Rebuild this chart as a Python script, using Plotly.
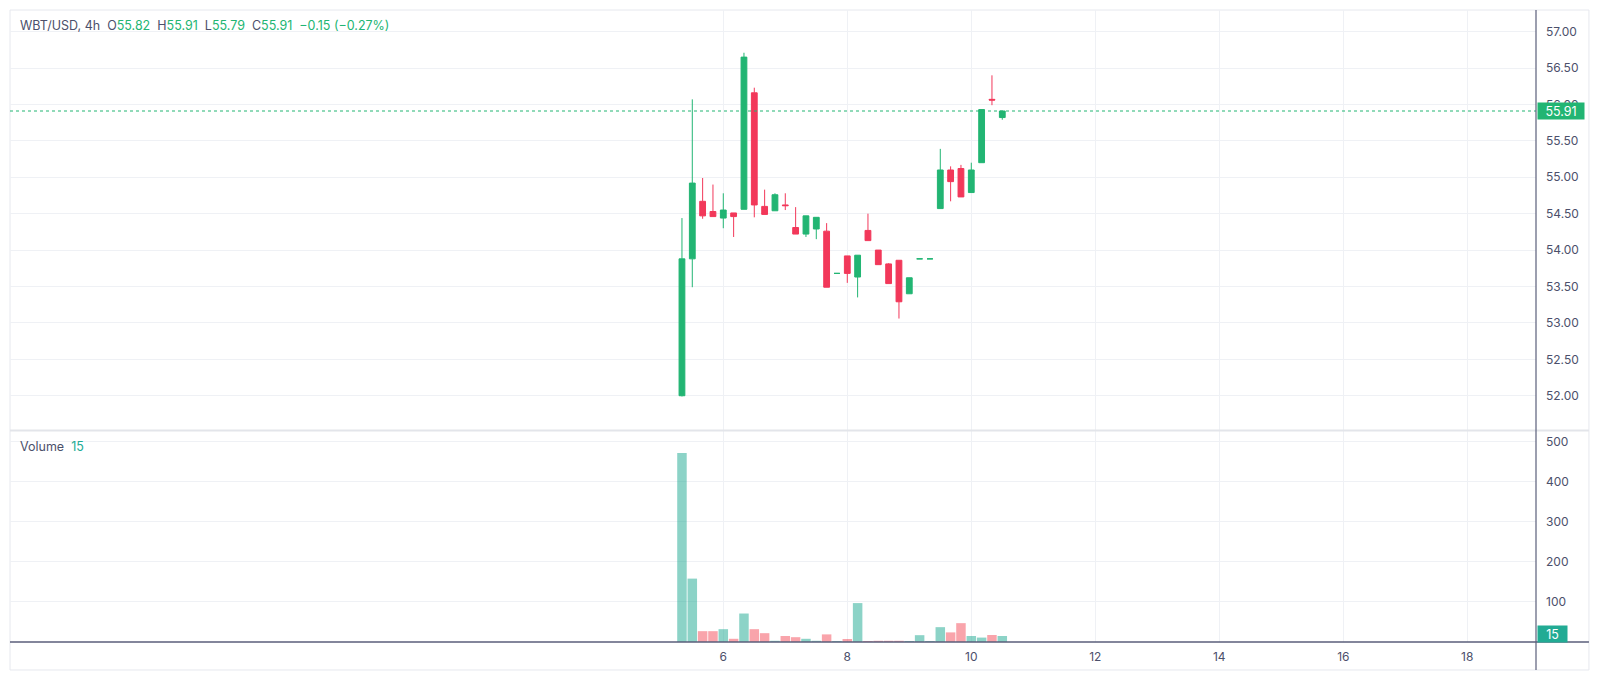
import plotly.graph_objects as go
import pandas as pd

# ---------------- data ----------------
symbol = "WBT/USD"
interval = "4h"
start_time = "2024-03-05 08:00"

opens = [52.00, 53.88, 54.67, 54.53, 54.44, 54.51, 54.56, 56.16, 54.60, 54.54,
         54.62, 54.31, 54.22, 54.29, 54.26, 53.68, 53.92, 53.63, 54.27, 54.00,
         53.81, 53.86, 53.40, 53.88, 53.88, 54.57, 55.10, 55.12, 54.79, 55.20,
         56.07, 55.82]
highs = [54.44, 56.07, 54.99, 54.90, 54.78, 54.51, 56.71, 56.23, 54.83, 54.78,
         54.78, 54.59, 54.47, 54.45, 54.37, 53.68, 53.92, 53.93, 54.50, 54.00,
         53.82, 53.86, 53.62, 53.88, 53.88, 55.39, 55.15, 55.17, 55.20, 55.93,
         56.40, 55.91]
lows = [51.99, 53.49, 54.43, 54.46, 54.30, 54.18, 54.56, 54.45, 54.49, 54.54,
        54.55, 54.22, 54.18, 54.15, 53.49, 53.68, 53.55, 53.35, 54.13, 53.80,
        53.54, 53.06, 53.40, 53.88, 53.88, 54.57, 54.67, 54.73, 54.79, 55.20,
        55.99, 55.79]
closes = [53.88, 54.92, 54.47, 54.46, 54.55, 54.46, 56.65, 54.62, 54.49, 54.76,
          54.61, 54.22, 54.47, 54.45, 53.49, 53.68, 53.68, 53.93, 54.13, 53.80,
          53.54, 53.29, 53.62, 53.88, 53.88, 55.10, 54.94, 54.73, 55.10, 55.93,
          56.06, 55.91]
volumes = [471, 158, 27, 27, 32, 8, 71, 32, 22, 3,
           15, 12, 8, 3, 19, 2.5, 7.5, 97, 2.5, 3,
           3, 3, 2.5, 17, 2.5, 37, 24, 47, 15, 11,
           17.5, 15]

x_tick_days = ["2024-03-06", "2024-03-08", "2024-03-10", "2024-03-12",
               "2024-03-14", "2024-03-16", "2024-03-18"]
x_tick_text = ["6", "8", "10", "12", "14", "16", "18"]
price_ticks = [52.0, 52.5, 53.0, 53.5, 54.0, 54.5, 55.0, 55.5, 56.0, 56.5, 57.0]
volume_ticks = [100, 200, 300, 400, 500]

# ---------------- styles ----------------
UP = "#22b573"
DOWN = "#f2385a"
UP_VOL = "rgba(34,171,148,0.52)"
DOWN_VOL = "rgba(242,54,69,0.45)"
TEAL = "#22ab94"
TEXT = "#4c506b"
GRID = "#eff1f5"
AXIS = "#5a5e7a"
FRAME = "#e6e8ee"
FONT = "Inter"

times = pd.date_range(start_time, periods=len(opens), freq=interval)

# direction of each bar (flat bars follow the previous close, as the candlestick does)
up_flags = []
prev_close = None
state = True
for o, c in zip(opens, closes):
    if c != o:
        state = c > o
    elif prev_close is not None and c != prev_close:
        state = c > prev_close
    up_flags.append(state)
    prev_close = c
vol_colors = [UP_VOL if u else DOWN_VOL for u in up_flags]

fig = go.Figure()
fig.add_trace(go.Candlestick(
    x=times, open=opens, high=highs, low=lows, close=closes,
    increasing=dict(line=dict(color=UP, width=1), fillcolor=UP),
    decreasing=dict(line=dict(color=DOWN, width=1), fillcolor=DOWN),
    xaxis="x", yaxis="y", showlegend=False, hoverinfo="x+y",
))
fig.add_trace(go.Bar(
    x=times, y=volumes, marker=dict(color=vol_colors, line=dict(width=0)),
    xaxis="x2", yaxis="y2", showlegend=False,
))

x_range = ["2024-02-23 11:53", "2024-03-19 02:36"]
last_close = closes[-1]
change = closes[-1] - closes[-2]
pct = change / closes[-2] * 100

def fmt_signed(v, suffix=""):
    s = f"{abs(v):.2f}{suffix}"
    return ("\u2212" if v < 0 else "+") + s

header = (
    f"<span style='color:{TEXT}'>{symbol}, {interval}</span>&nbsp;&nbsp;"
    f"<span style='color:{TEXT}'>O</span><span style='color:{UP}'>{opens[-1]:.2f}</span>&nbsp;&nbsp;"
    f"<span style='color:{TEXT}'>H</span><span style='color:{UP}'>{highs[-1]:.2f}</span>&nbsp;&nbsp;"
    f"<span style='color:{TEXT}'>L</span><span style='color:{UP}'>{lows[-1]:.2f}</span>&nbsp;&nbsp;"
    f"<span style='color:{TEXT}'>C</span><span style='color:{UP}'>{closes[-1]:.2f}</span>&nbsp;&nbsp;"
    f"<span style='color:{UP}'>{fmt_signed(change)} ({fmt_signed(pct, '%')})</span>"
)
vol_header = (
    f"<span style='color:{TEXT}'>Volume</span>&nbsp;&nbsp;"
    f"<span style='color:{TEAL}'>{volumes[-1]:g}</span>"
)

BOTTOM_EXT = -0.0443
RIGHT_EXT = 1.0347

fig.update_layout(
    width=1600, height=681,
    margin=dict(l=10, r=64, t=10, b=39),
    paper_bgcolor="white", plot_bgcolor="white",
    font=dict(family=FONT, size=12, color=TEXT),
    boxgap=0.2, bargap=0.08,
    showlegend=False,
    xaxis=dict(
        domain=[0, 1], anchor="y", type="date", range=x_range,
        tickvals=x_tick_days, ticktext=x_tick_text, showticklabels=False,
        showgrid=True, gridcolor=GRID, gridwidth=1, zeroline=False,
        rangeslider=dict(visible=False), matches="x2", fixedrange=True,
    ),
    xaxis2=dict(
        domain=[0, 1], anchor="y2", type="date", range=x_range,
        tickvals=x_tick_days, ticktext=x_tick_text, showticklabels=True,
        showgrid=True, gridcolor=GRID, gridwidth=1, zeroline=False,
        ticks="", ticklabelstandoff=6,
        tickfont=dict(family=FONT, size=12, color=TEXT),
    ),
    yaxis=dict(
        domain=[0.3354, 1], anchor="x", side="right", range=[51.529, 57.297],
        tickvals=price_ticks, tickformat=".2f",
        showgrid=True, gridcolor=GRID, gridwidth=1, zeroline=False,
        ticks="", ticklabelstandoff=9,
        tickfont=dict(family=FONT, size=12, color=TEXT),
    ),
    yaxis2=dict(
        domain=[0, 0.3339], anchor="x2", side="right", range=[0, 526],
        tickvals=volume_ticks,
        showgrid=True, gridcolor=GRID, gridwidth=1, zeroline=False,
        ticks="", ticklabelstandoff=9,
        tickfont=dict(family=FONT, size=12, color=TEXT),
    ),
)

shapes = [
    # outer frame
    dict(type="rect", xref="paper", yref="paper", x0=0, x1=RIGHT_EXT, y0=BOTTOM_EXT, y1=1,
         line=dict(color=FRAME, width=1), fillcolor="rgba(0,0,0,0)", layer="below"),
    # pane separator
    dict(type="line", xref="paper", yref="paper", x0=0, x1=RIGHT_EXT, y0=0.3347, y1=0.3347,
         line=dict(color="#e3e5ea", width=2)),
    # last price dotted line
    dict(type="line", xref="paper", yref="y", x0=0, x1=1, y0=last_close, y1=last_close,
         line=dict(color=UP, width=1, dash="dot")),
    # right price-scale border
    dict(type="line", xref="paper", yref="paper", x0=1, x1=1, y0=BOTTOM_EXT, y1=1,
         line=dict(color=AXIS, width=1.2)),
    # time-scale border
    dict(type="line", xref="paper", yref="paper", x0=0, x1=RIGHT_EXT, y0=0, y1=0,
         line=dict(color=AXIS, width=1.5)),
]
fig.update_layout(shapes=shapes)

fig.add_annotation(xref="paper", yref="paper", x=0, y=0.9747, xanchor="left", yanchor="middle",
                   xshift=8, text=header, showarrow=False,
                   font=dict(family=FONT, size=12.5, color=TEXT))
fig.add_annotation(xref="paper", yref="paper", x=0, y=0.3087, xanchor="left", yanchor="middle",
                   xshift=8, text=vol_header, showarrow=False,
                   font=dict(family=FONT, size=12.5, color=TEXT))
fig.add_annotation(xref="paper", yref="y", x=1, y=last_close, xanchor="left", yanchor="middle",
                   text=f"{last_close:.2f}", showarrow=False, bgcolor=UP, borderpad=0,
                   width=46, height=16, align="center",
                   font=dict(family=FONT, size=12.5, color="white"), xshift=1)
fig.add_annotation(xref="paper", yref="y2", x=1, y=volumes[-1], xanchor="left", yanchor="middle",
                   text=f"{volumes[-1]:g}", showarrow=False, bgcolor=TEAL, borderpad=0,
                   width=29, height=16, align="center",
                   font=dict(family=FONT, size=12.5, color="white"), xshift=1, yshift=2)

fig.write_html("out.html", config={"displayModeBar": False},
               post_script="document.body.style.margin='0';")
